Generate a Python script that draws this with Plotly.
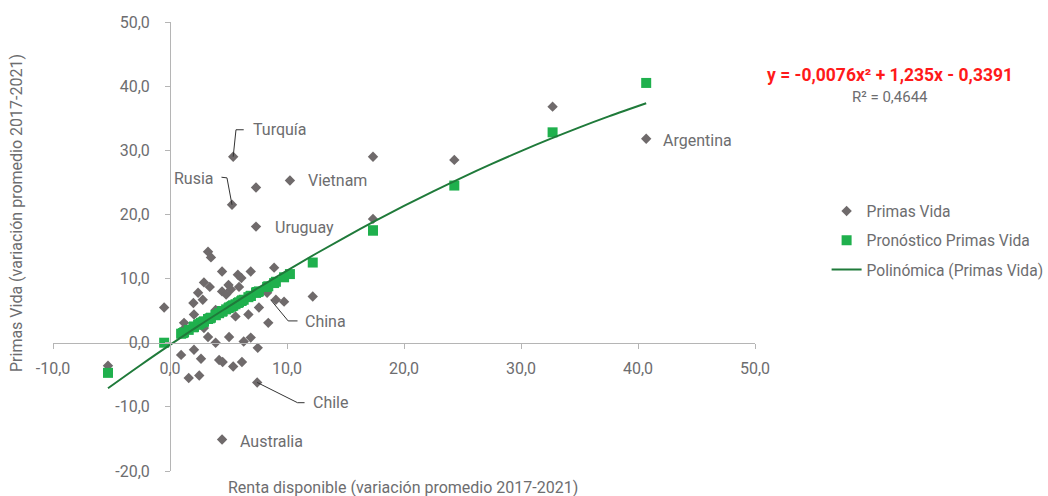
import plotly.graph_objects as go

# ---- data ----
renta = [-5.3, -0.5, 0.95, 1.1, 1.2, 1.6, 2.0, 2.05, 2.05, 2.4, 2.5, 2.65, 2.8, 2.9, 2.9,
         3.25, 3.25, 3.4, 3.5, 3.9, 3.9, 4.2, 4.45, 4.45, 4.45, 4.5, 4.8, 5.0, 5.05, 5.2,
         5.3, 5.4, 5.4, 5.6, 5.8, 5.9, 6.1, 6.15, 6.3, 6.7, 6.9, 6.9, 7.35, 7.35, 7.45,
         7.5, 7.6, 8.3, 8.4, 8.9, 9.05, 9.75, 10.25, 12.2, 17.35, 17.35, 24.3, 32.7, 40.7]
primas_vida = [-3.6, 5.5, -1.9, 2.0, 3.1, -5.5, 6.2, 4.4, -1.1, 7.8, -5.1, -2.5, 6.7, 9.4, 2.3,
               14.2, 0.9, 8.7, 13.3, 0.0, 5.1, -2.7, 11.1, 8.0, -15.1, -3.0, 7.5, 9.0, 0.9, 8.3,
               21.5, 29.0, -3.7, 4.1, 10.6, 8.7, 10.1, -3.0, 0.2, 4.4, 11.1, 0.8, 18.1, 24.2, -6.2,
               -0.8, 5.5, 7.8, 3.1, 11.7, 6.7, 6.4, 25.3, 7.2, 19.3, 29.0, 28.5, 36.8, 31.8]
pronostico = [-4.7, 0.0, 1.4, 1.5, 1.6, 2.0, 2.4, 2.5, 2.5, 2.8, 2.9, 3.1, 3.2, 3.3, 3.3,
              3.7, 3.7, 3.8, 3.9, 4.3, 4.3, 4.6, 4.9, 4.9, 4.9, 4.9, 5.2, 5.4, 5.5, 5.6,
              5.7, 5.8, 5.8, 6.0, 6.2, 6.3, 6.5, 6.6, 6.7, 7.1, 7.3, 7.3, 7.8, 7.8, 7.9,
              7.9, 8.0, 8.7, 8.8, 9.3, 9.5, 10.2, 10.7, 12.5, 17.5, 17.5, 24.5, 32.8, 40.5]
trend_x = [-5.3, -2.5, 0, 2.5, 5, 7.5, 10, 12.5, 15, 17.5, 20, 22.5, 25, 27.5, 30, 32.5, 35, 37.5, 40.7]
trend_y = [-7.1, -3.47, -0.34, 2.70, 5.62, 8.50, 11.25, 13.91, 16.48, 18.95, 21.32, 23.60, 25.79,
           27.88, 29.87, 31.77, 33.58, 35.29, 37.34]
x_ticks = [-10, 0, 10, 20, 30, 40, 50]
x_ticktext = ["-10,0", "0,0", "10,0", "20,0", "30,0", "40,0", "50,0"]
y_ticks = [-20, -10, 0, 10, 20, 30, 40, 50]
y_ticktext = ["-20,0", "-10,0", "0,0", "10,0", "20,0", "30,0", "40,0", "50,0"]

GRAY_TXT = "#6d6d6f"
FONT = "Roboto"

fig = go.Figure()
fig.add_trace(go.Scatter(x=renta, y=primas_vida, mode="markers", name="Primas Vida",
                         legendgroup="a",
                         marker=dict(symbol="diamond", size=8, color="#6f6a6b")))
fig.add_trace(go.Scatter(x=renta, y=pronostico, mode="markers", name="Pronóstico Primas Vida",
                         legendgroup="b",
                         marker=dict(symbol="square", size=10, color="#1fb04d")))
fig.add_trace(go.Scatter(x=trend_x, y=trend_y, mode="lines", name="Polinómica (Primas Vida)",
                         legendgroup="c", line=dict(color="#1f7a3a", width=2, shape="spline")))

axis_common = dict(showgrid=False, zeroline=False, showline=True, linecolor="#b5b5b5",
                   linewidth=1, ticks="outside", ticklen=5, tickcolor="#b5b5b5",
                   automargin=False,
                   tickfont=dict(family=FONT, size=16, color=GRAY_TXT))
fig.update_layout(
    width=1048, height=496,
    margin=dict(l=53, r=293, t=22, b=25, autoexpand=False),
    plot_bgcolor="white", paper_bgcolor="white",
    xaxis=dict(range=[-10, 50], tickvals=x_ticks, ticktext=x_ticktext,
               anchor="free", position=2/7, ticklabelstandoff=6, **axis_common),
    yaxis=dict(range=[-20, 50], tickvals=y_ticks, ticktext=y_ticktext,
               anchor="free", position=1/6, ticklabelstandoff=12, **axis_common),
    showlegend=True,
    legend=dict(x=1.102, y=0.616, xanchor="left", yanchor="top", tracegroupgap=6,
                itemwidth=30,
                font=dict(family=FONT, size=15.6, color=GRAY_TXT), bgcolor="rgba(0,0,0,0)"),
)

# axis titles
fig.add_annotation(text="Renta disponible (variación promedio 2017-2021)", xref="paper", yref="paper",
                   x=0.4986, y=-0.036, showarrow=False, xanchor="center", yanchor="middle",
                   font=dict(family=FONT, size=16, color=GRAY_TXT))
fig.add_annotation(text="Primas Vida (variación promedio 2017-2021)", xref="paper", yref="paper",
                   x=-0.051, y=0.575, showarrow=False, textangle=-90,
                   xanchor="center", yanchor="middle",
                   font=dict(family=FONT, size=16, color=GRAY_TXT))
# equation
fig.add_annotation(text="<b>y = -0,0076x² + 1,235x - 0,3391</b>", xref="paper", yref="paper",
                   x=1.192, y=0.882, showarrow=False, xanchor="center", yanchor="middle",
                   font=dict(family=FONT, size=17.5, color="#ff1a1a"))
fig.add_annotation(text="R² = 0,4644", xref="paper", yref="paper",
                   x=1.192, y=0.833, showarrow=False, xanchor="center", yanchor="middle",
                   font=dict(family=FONT, size=15, color=GRAY_TXT))

# country labels (data coordinates)
labels = [
    ("Turquía", 6.9, 33.2, "left"),
    ("Rusia", 3.9, 25.6, "right"),
    ("Vietnam", 11.6, 25.3, "left"),
    ("Uruguay", 8.8, 17.9, "left"),
    ("Argentina", 42.0, 31.5, "left"),
    ("China", 11.4, 3.3, "left"),
    ("Chile", 12.05, -9.35, "left"),
    ("Australia", 5.8, -15.4, "left"),
]
for txt, lx, ly, anc in labels:
    fig.add_annotation(text=txt, x=lx, y=ly, xref="x", yref="y", showarrow=False,
                       xanchor=anc, yanchor="middle",
                       font=dict(family=FONT, size=16, color=GRAY_TXT))

# leader lines
leaders = [
    [(5.4, 29.0), (5.64, 33.2), (6.3, 33.2)],
    [(5.3, 21.5), (4.87, 25.7), (4.4, 25.8)],
    [(8.6, 6.7), (10.1, 3.4), (10.9, 3.4)],
    [(7.45, -6.2), (10.9, -9.35), (11.5, -9.35)],
]
for pts in leaders:
    path = "M " + " L ".join(f"{px},{py}" for px, py in pts)
    fig.add_shape(type="path", path=path, xref="x", yref="y",
                  line=dict(color="#333333", width=1))

fig.write_html("out.html", config={"displayModeBar": False},
               post_script="document.body.style.margin='0px';")
